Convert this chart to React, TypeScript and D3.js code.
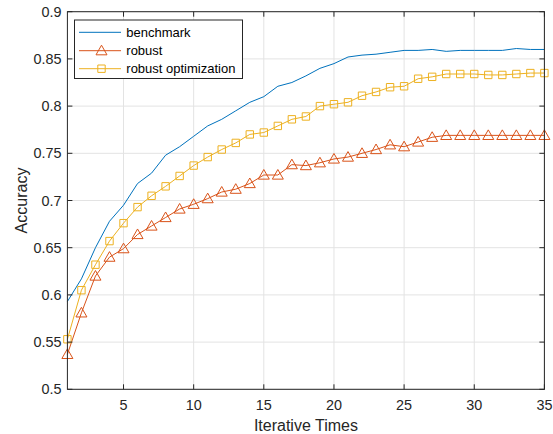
import React from "react";
import * as d3 from "d3";

const iterations = d3.range(1, 36);
const benchmark = [0.593, 0.617, 0.65, 0.678, 0.695, 0.718, 0.729, 0.748, 0.757, 0.768, 0.779, 0.786, 0.795, 0.804, 0.81, 0.821, 0.825, 0.832, 0.84, 0.845, 0.852, 0.854, 0.855, 0.857, 0.859, 0.859, 0.86, 0.858, 0.859, 0.859, 0.859, 0.859, 0.861, 0.86, 0.86];
const robust = [0.537, 0.581, 0.62, 0.64, 0.649, 0.664, 0.673, 0.682, 0.691, 0.696, 0.702, 0.709, 0.712, 0.718, 0.727, 0.727, 0.738, 0.737, 0.74, 0.744, 0.746, 0.75, 0.754, 0.759, 0.757, 0.762, 0.767, 0.769, 0.769, 0.769, 0.769, 0.769, 0.769, 0.769, 0.769];
const robustOpt = [0.553, 0.605, 0.632, 0.657, 0.676, 0.693, 0.705, 0.715, 0.726, 0.737, 0.746, 0.754, 0.761, 0.77, 0.772, 0.779, 0.786, 0.789, 0.8, 0.802, 0.804, 0.811, 0.815, 0.82, 0.821, 0.829, 0.831, 0.834, 0.834, 0.834, 0.833, 0.833, 0.834, 0.835, 0.835];
const xTicks = [5, 10, 15, 20, 25, 30, 35];
const yTicks = [0.5, 0.55, 0.6, 0.65, 0.7, 0.75, 0.8, 0.85, 0.9];
const seriesNames = ["benchmark", "robust", "robust optimization"];
const colors = ["#0072BD", "#D95319", "#EDB120"];

const W = 553, H = 434;
const L = 67.4, R = 544.4, T = 11.7, B = 389.3;
const font = "Arial, 'Liberation Sans', Helvetica, sans-serif";

export default function App() {
  const x = d3.scaleLinear().domain([1, 35]).range([L, R]);
  const y = d3.scaleLinear().domain([0.5, 0.9]).range([B, T]);
  const line = d3.line<number>().x((_, i) => x(iterations[i])).y((d) => y(d));
  const tri = (cx: number, cy: number, s = 5.5) =>
    `M${cx},${cy - s}L${cx + s},${cy + s * 0.75}L${cx - s},${cy + s * 0.75}Z`;
  const sq = (cx: number, cy: number, s = 3.7) =>
    `M${cx - s},${cy - s}h${2 * s}v${2 * s}h${-2 * s}Z`;
  const tickLen = 5;
  const axisColor = "#262626";
  const legX = 74.5, legY = 20, legW = 168, legH = 58.5;
  const rowY = [32.3, 50.7, 68.7];
  return (
    <svg width={W} height={H} style={{ position: "absolute", left: 0, top: 0, background: "#fff" }}>
      <rect x={0} y={0} width={W} height={H} fill="#fff" />
      {xTicks.map((t) => (
        <line key={"gx" + t} x1={x(t)} x2={x(t)} y1={T} y2={B} stroke="#e3e3e3" strokeWidth={1} />
      ))}
      {yTicks.map((t) => (
        <line key={"gy" + t} x1={L} x2={R} y1={y(t)} y2={y(t)} stroke="#e3e3e3" strokeWidth={1} />
      ))}
      <path d={line(benchmark) || ""} fill="none" stroke={colors[0]} strokeWidth={1} />
      <path d={line(robust) || ""} fill="none" stroke={colors[1]} strokeWidth={1} />
      <path d={line(robustOpt) || ""} fill="none" stroke={colors[2]} strokeWidth={1} />
      {robust.map((v, i) => (
        <path key={"r" + i} d={tri(x(iterations[i]), y(v))} fill="none" stroke={colors[1]} strokeWidth={1} />
      ))}
      {robustOpt.map((v, i) => (
        <path key={"o" + i} d={sq(x(iterations[i]), y(v))} fill="none" stroke={colors[2]} strokeWidth={1} />
      ))}
      <rect x={L} y={T} width={R - L} height={B - T} fill="none" stroke={axisColor} strokeWidth={1} />
      {xTicks.map((t) => (
        <g key={"tx" + t}>
          <line x1={x(t)} x2={x(t)} y1={B} y2={B - tickLen} stroke={axisColor} />
          <line x1={x(t)} x2={x(t)} y1={T} y2={T + tickLen} stroke={axisColor} />
          <text x={x(t)} y={B + 21} textAnchor="middle" fontFamily={font} fontSize={14.4} fill={axisColor}>
            {t}
          </text>
        </g>
      ))}
      {yTicks.map((t) => (
        <g key={"ty" + t}>
          <line x1={L} x2={L + tickLen} y1={y(t)} y2={y(t)} stroke={axisColor} />
          <line x1={R} x2={R - tickLen} y1={y(t)} y2={y(t)} stroke={axisColor} />
          <text x={L - 6} y={y(t) + 5} textAnchor="end" fontFamily={font} fontSize={14.4} fill={axisColor}>
            {d3.format("")(t)}
          </text>
        </g>
      ))}
      <text x={(L + R) / 2} y={431} textAnchor="middle" fontFamily={font} fontSize={16} fill={axisColor}>
        Iterative Times
      </text>
      <text transform={`translate(26.5,${(T + B) / 2}) rotate(-90)`} textAnchor="middle" fontFamily={font} fontSize={16} fill={axisColor}>
        Accuracy
      </text>
      <rect x={legX} y={legY} width={legW} height={legH} fill="#fff" stroke={axisColor} strokeWidth={1} />
      {seriesNames.map((n, i) => (
        <g key={n}>
          <line x1={79} x2={121} y1={rowY[i]} y2={rowY[i]} stroke={colors[i]} strokeWidth={1} />
          {i === 1 && <path d={tri(101.5, rowY[i])} fill="none" stroke={colors[1]} />}
          {i === 2 && <path d={sq(101.5, rowY[i])} fill="none" stroke={colors[2]} />}
          <text x={126.3} y={rowY[i] + 4.6} fontFamily={font} fontSize={13} fill="#000">
            {n}
          </text>
        </g>
      ))}
    </svg>
  );
}
